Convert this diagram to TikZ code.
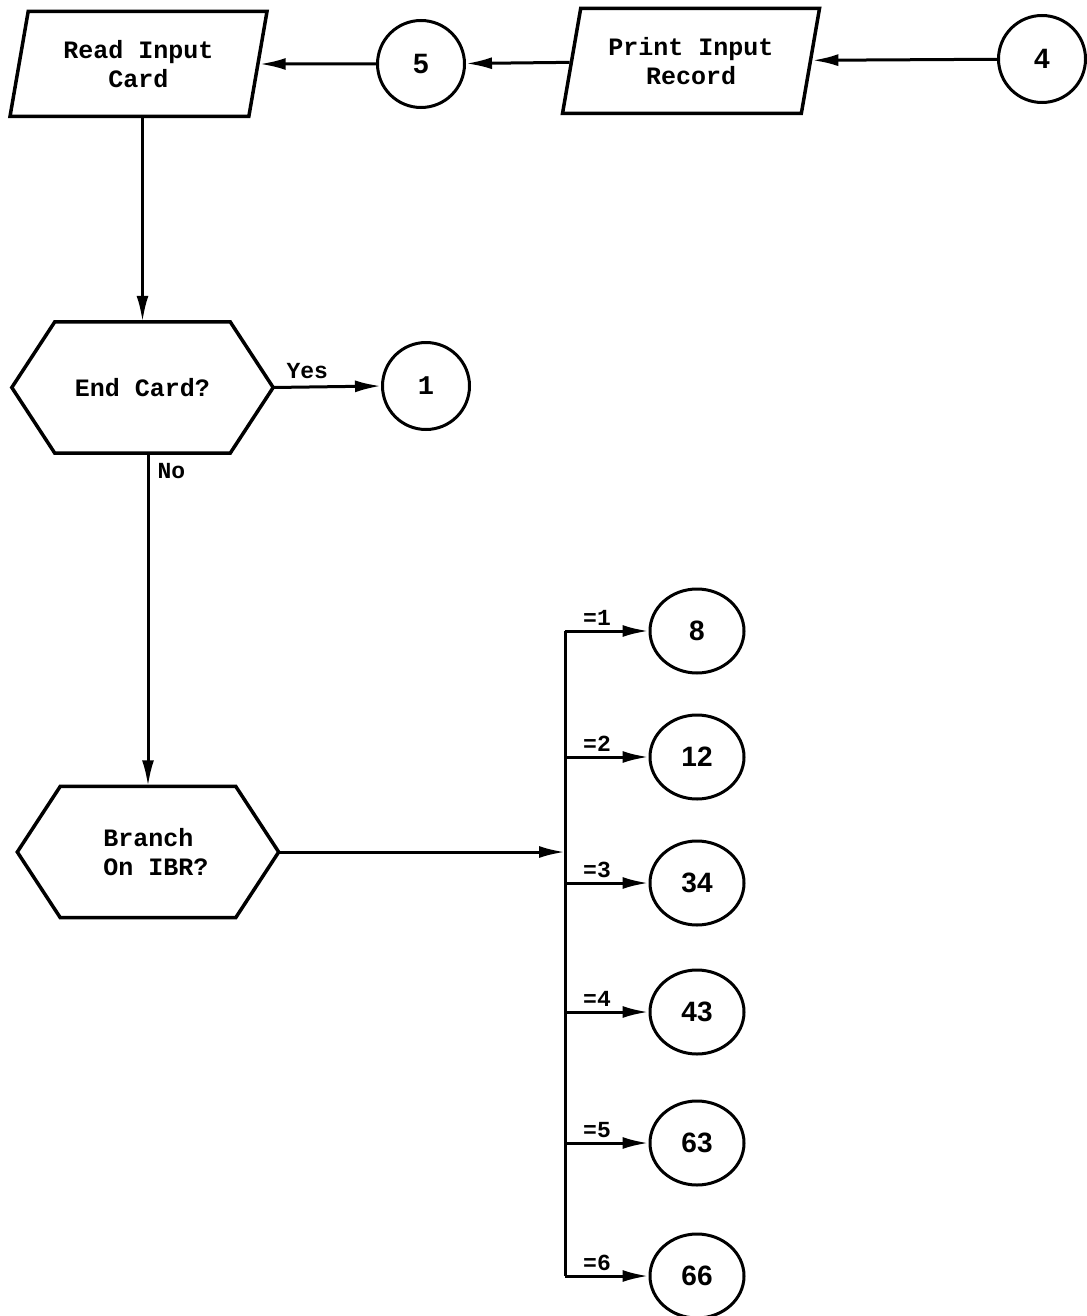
\documentclass[tikz,border=0pt]{standalone}
\usepackage{fontspec}
\setmonofont{Liberation Mono}
\setsansfont{Liberation Sans}
\usetikzlibrary{arrows.meta,positioning,shapes.geometric,calc}

% hexagonal decision outline round a plain node
\newcommand{\hexframe}[1]{%
  \draw[line width=3.5pt, line join=miter]
    (#1.west) -- ([xshift=43pt]#1.north west) -- ([xshift=-43pt]#1.north east)
    -- (#1.east) -- ([xshift=-43pt]#1.south east) -- ([xshift=43pt]#1.south west) -- cycle;}

\begin{document}
\begin{tikzpicture}[
  x=1pt, y=-1pt,
  font=\ttfamily\bfseries\fontsize{25}{29}\selectfont,
  >={Latex[length=26pt,width=12pt]},
  iocard/.style={
    trapezium,
    trapezium left angle=69,
    trapezium right angle=111,
    trapezium stretches body,
    draw,
    line width=3.5pt,
    minimum width=257pt,
    minimum height=105pt,
    inner sep=0pt,
    align=center
  },
  decision/.style={
    rectangle,
    minimum width=261pt,
    minimum height=131pt,
    inner sep=0pt,
    align=center
  },
  connector/.style={
    circle,
    draw,
    line width=3pt,
    minimum size=87pt,
    inner sep=0pt,
    font=\sffamily\bfseries\fontsize{28}{30}\selectfont
  },
  target/.style={
    ellipse,
    draw,
    line width=3pt,
    minimum width=94pt,
    minimum height=84pt,
    inner sep=0pt,
    font=\sffamily\bfseries\fontsize{28}{30}\selectfont
  },
  flowline/.style={
    ->,
    line width=3pt
  },
  caselabel/.style={
    font=\ttfamily\bfseries\fontsize{23}{25}\selectfont,
    anchor=base west,
    inner sep=0pt
  }
]
  \useasboundingbox (0,0) rectangle (1086,1316);

  % =========================================================================
  % TOP ROW: INPUT
  % =========================================================================
  \node[iocard] (rd_card) at (138.5,64) {Read Input\\Card};
  \node[connector] (con5) at (421,64) {5};
  \node[iocard] (pr_rec) at (691,61) {Print Input\\Record};
  \node[connector] (con4) at (1042,59) {4};

  \draw[flowline] (con5) -- (rd_card);
  \draw[flowline] (pr_rec) -- (con5);
  \draw[flowline] (con4) -- (pr_rec);

  % =========================================================================
  % DECISIONS
  % =========================================================================
  \node[decision] (end_card) at (142.5,387.5) {End Card?};
  \hexframe{end_card}
  \node[connector, font=\ttfamily\bfseries\fontsize{27}{28}\selectfont] (con1) at (426,386) {1};
  \node[decision, align=left, xshift=8pt] (br_ibr) at (148,852) {Branch\\On IBR?};
  \node[decision, draw=none] (br_box) at (148,852) {};
  \hexframe{br_box}

  \draw[flowline] (end_card.north |- rd_card.south) -- (end_card.north);
  \draw[flowline] (end_card.east) -- (con1.west)
    node[caselabel, pos=0.11, yshift=9pt] (yes_lbl) {Yes};
  \draw[flowline] (br_box.north |- end_card.south) -- (br_box.north)
    node[caselabel, pos=0, xshift=8pt, yshift=-25pt] (no_lbl) {No};

  % =========================================================================
  % BRANCH ON IBR: BUS AND TARGETS
  % =========================================================================
  \coordinate (bus_top) at (565,631);
  \coordinate (bus_bot) at (565,1276);
  \draw[flowline] (br_box.east) -- (br_box.east -| bus_top);
  \draw[line width=3pt] (bus_top) -- (bus_bot);

  \foreach \case/\dest/\ypos in {1/8/631, 2/12/757, 3/34/883, 4/43/1012, 5/63/1143, 6/66/1276} {
    \node[target] (dest\dest) at (697,\ypos) {\dest};
    \draw[flowline] (bus_top |- dest\dest) -- (dest\dest)
      node[caselabel, pos=0.2, yshift=6pt] (case\case) {=\case};
  }

\end{tikzpicture}
\end{document}
